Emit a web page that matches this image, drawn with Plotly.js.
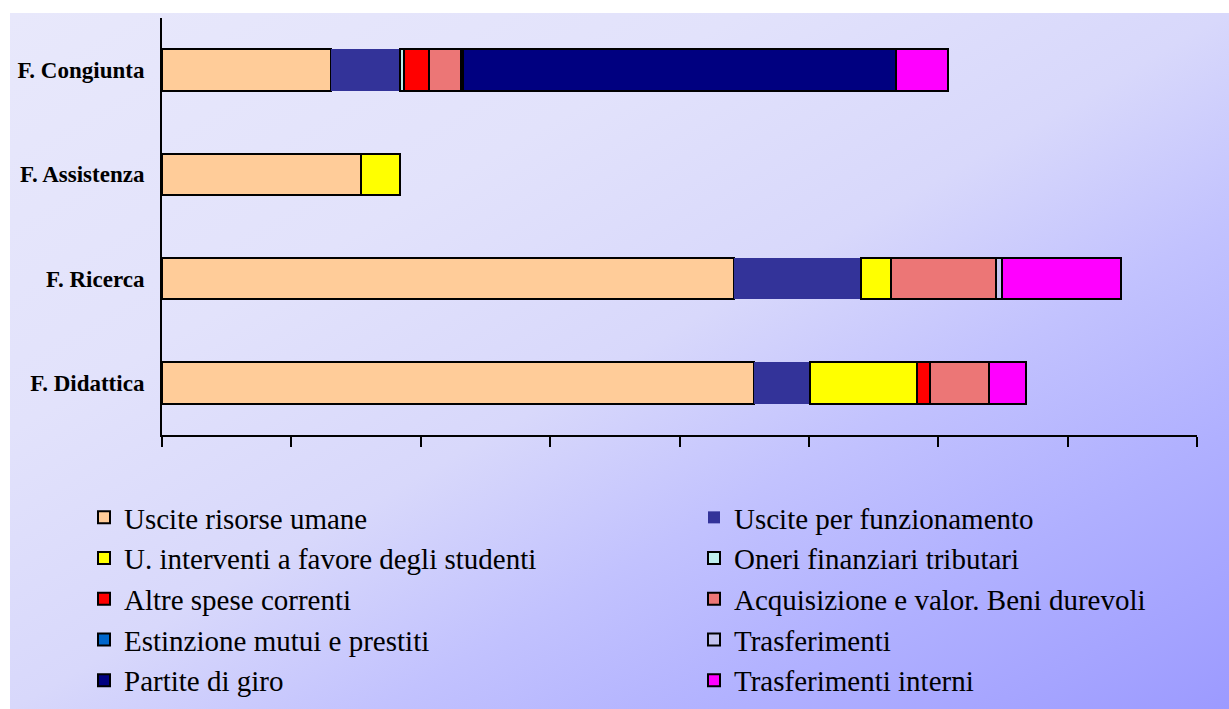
<!DOCTYPE html>
<html>
<head>
<meta charset="utf-8">
<script src="https://cdn.plot.ly/plotly-3.0.1.min.js"></script>
<style>
html,body{margin:0;padding:0;background:#ffffff;}
#chart{width:1229px;height:709px;
background-image:linear-gradient(to bottom right,#E8E8FB 0%,#E2E2FB 30%,#D8D8FB 50%,#C2C2FE 65%,#B0B0FF 80%,#9C9AFF 100%);
background-position:10px 13px;background-size:1219px 696px;background-repeat:no-repeat;}
</style>
</head>
<body>
<div id="chart"></div>
<script>
// Categories (bottom to top)
const categories = ["F. Didattica", "F. Ricerca", "F. Assistenza", "F. Congiunta"];

// Series names
const seriesNames = [
  "Uscite risorse umane",
  "Uscite per funzionamento",
  "U. interventi a favore degli studenti",
  "Oneri finanziari tributari",
  "Altre spese correnti",
  "Acquisizione e valor. Beni durevoli",
  "Estinzione mutui e prestiti",
  "Trasferimenti",
  "Partite di giro",
  "Trasferimenti interni"
];

// Values per series, in category order [Didattica, Ricerca, Assistenza, Congiunta]
const usciteRisorseUmane   = [4.576, 4.42, 1.537, 1.307];
const usciteFunzionamento  = [0.43, 0.985, null, 0.53];
const interventiStudenti   = [0.83, 0.23, 0.30, null];
const oneriFinanziari      = [null, null, null, 0.03];
const altreSpeseCorrenti   = [0.103, null, null, 0.195];
const acquisizioneBeni     = [0.45, 0.81, null, 0.25];
const estinzioneMutui      = [null, null, null, 0.015];
const trasferimenti        = [null, 0.05, null, null];
const partiteDiGiro        = [null, null, null, 3.35];
const trasferimentiInterni = [0.29, 0.92, null, 0.40];

const seriesValues = [usciteRisorseUmane, usciteFunzionamento, interventiStudenti,
  oneriFinanziari, altreSpeseCorrenti, acquisizioneBeni, estinzioneMutui,
  trasferimenti, partiteDiGiro, trasferimentiInterni];

const colors = ["#FFCC99", "#333399", "#FFFF00", "#BFEFEF", "#FF0000",
  "#EC7676", "#0066CC", "#C4C4F0", "#000080", "#FF00FF"];
const lineWidths = [2, 0, 2, 2, 2, 2, 2, 2, 2, 2];

const traces = seriesNames.map((name, i) => ({
  type: "bar",
  orientation: "h",
  name: name,
  y: categories,
  x: seriesValues[i],
  legend: (i % 2 === 0) ? "legend" : "legend2",
  marker: {color: colors[i], line: {color: "#000000", width: lineWidths[i]}},
  hoverinfo: "x+name"
}));

const legendFont = {family: "Liberation Serif, Times New Roman, serif", size: 29, color: "#000000"};

const layout = {
  width: 1229, height: 709,
  paper_bgcolor: "rgba(0,0,0,0)",
  plot_bgcolor: "rgba(0,0,0,0)",
  margin: {l: 162, r: 32, t: 18, b: 274, autoexpand: false},
  barmode: "stack",
  bargap: 0.6,
  showlegend: true,
  font: {family: "Liberation Serif, Times New Roman, serif", color: "#000000"},
  xaxis: {
    range: [0, 8], dtick: 1, tick0: 0,
    showgrid: false, zeroline: false,
    showline: true, linecolor: "#000000", linewidth: 2,
    ticks: "outside", ticklen: 10, tickwidth: 2, tickcolor: "#000000",
    showticklabels: false, fixedrange: true, automargin: false
  },
  yaxis: {
    showgrid: false, zeroline: false,
    showline: true, linecolor: "#000000", linewidth: 2,
    ticks: "", ticklabelstandoff: 11,
    tickfont: {family: "Liberation Serif, Times New Roman, serif", size: 23, color: "#000000", weight: "bold"},
    fixedrange: true, automargin: false
  },
  legend: {
    orientation: "v",
    xref: "container", yref: "container",
    x: 84 / 1229, xanchor: "left",
    y: 1 - 492 / 709, yanchor: "top",
    traceorder: "normal",
    font: legendFont,
    bgcolor: "rgba(0,0,0,0)", borderwidth: 0
  },
  legend2: {
    orientation: "v",
    xref: "container", yref: "container",
    x: 694 / 1229, xanchor: "left",
    y: 1 - 492 / 709, yanchor: "top",
    traceorder: "normal",
    font: legendFont,
    bgcolor: "rgba(0,0,0,0)", borderwidth: 0
  }
};

Plotly.newPlot("chart", traces, layout, {displayModeBar: false, staticPlot: true});
</script>
</body>
</html>
